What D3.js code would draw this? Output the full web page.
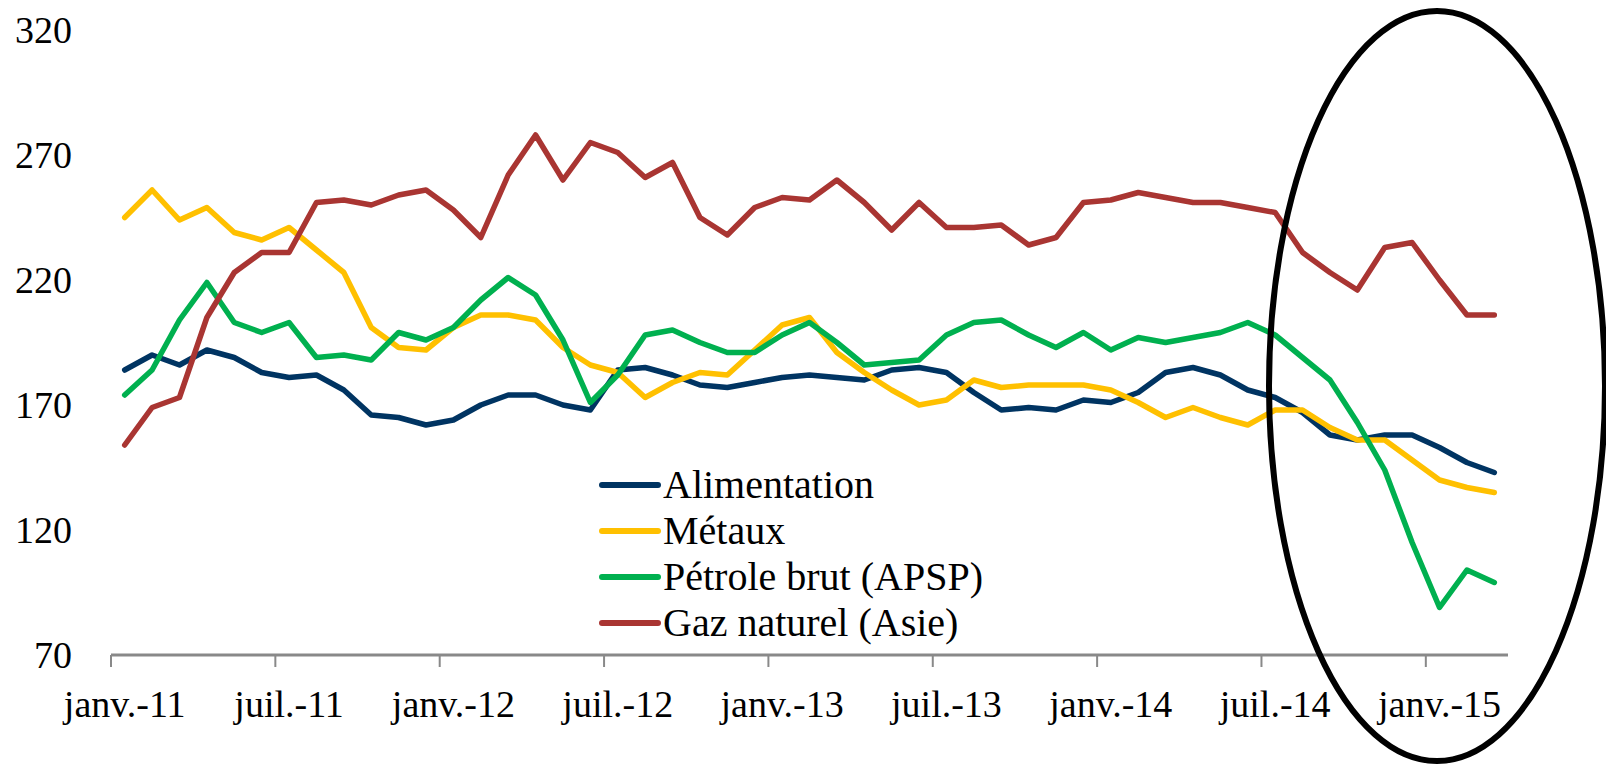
<!DOCTYPE html>
<html>
<head>
<meta charset="utf-8">
<script src="https://cdn.jsdelivr.net/npm/d3@7"></script>
<style>
    body { margin: 0; background: #ffffff; }
    svg text { font-family: "Liberation Serif", "DejaVu Serif", serif; fill: #000000; }
</style>
</head>
<body>
<svg id="chart" width="1606" height="764"></svg>
<script>
var months = [
    "janv.-11", "févr.-11", "mars-11", "avr.-11", "mai-11", "juin-11", "juil.-11", "août-11", "sept.-11", "oct.-11", "nov.-11", "déc.-11",
    "janv.-12", "févr.-12", "mars-12", "avr.-12", "mai-12", "juin-12", "juil.-12", "août-12", "sept.-12", "oct.-12", "nov.-12", "déc.-12",
    "janv.-13", "févr.-13", "mars-13", "avr.-13", "mai-13", "juin-13", "juil.-13", "août-13", "sept.-13", "oct.-13", "nov.-13", "déc.-13",
    "janv.-14", "févr.-14", "mars-14", "avr.-14", "mai-14", "juin-14", "juil.-14", "août-14", "sept.-14", "oct.-14", "nov.-14", "déc.-14",
    "janv.-15", "févr.-15", "mars-15"
];

var tickLabels = ["janv.-11", "juil.-11", "janv.-12", "juil.-12", "janv.-13", "juil.-13", "janv.-14", "juil.-14", "janv.-15"];
var yTicks = [70, 120, 170, 220, 270, 320];

var seriesNames = ["Alimentation", "Métaux", "Pétrole brut (APSP)", "Gaz naturel (Asie)"];
var seriesColors = ["#003462", "#FFC000", "#00B04F", "#A93532"];

var alimentation = [184, 190, 186, 192, 189, 183, 181, 182, 176, 166, 165, 162,
    164, 170, 174, 174, 170, 168, 184, 185, 182, 178, 177, 179,
    181, 182, 181, 180, 184, 185, 183, 175, 168, 169, 168, 172,
    171, 175, 183, 185, 182, 176, 173, 167, 158, 156, 158, 158,
    153, 147, 143];

var metaux = [245, 256, 244, 249, 239, 236, 241, 232, 223, 201, 193, 192,
    201, 206, 206, 204, 193, 186, 183, 173, 179, 183, 182, 192,
    202, 205, 191, 183, 176, 170, 172, 180, 177, 178, 178, 178,
    176, 171, 165, 169, 165, 162, 168, 168, 161, 156, 156, 148,
    140, 137, 135];

var petrole = [174, 184, 204, 219, 203, 199, 203, 189, 190, 188, 199, 196,
    201, 212, 221, 214, 196, 171, 182, 198, 200, 195, 191, 191,
    198, 203, 195, 186, 187, 188, 198, 203, 204, 198, 193, 199,
    192, 197, 195, 197, 199, 203, 198, 189, 180, 163, 144, 115,
    89, 104, 99];

var gaz = [154, 169, 173, 205, 223, 231, 231, 251, 252, 250, 254, 256,
    248, 237, 262, 278, 260, 275, 271, 261, 267, 245, 238, 249,
    253, 252, 260, 251, 240, 251, 241, 241, 242, 234, 237, 251,
    252, 255, 253, 251, 251, 249, 247, 231, 223, 216, 233, 235,
    220, 206, 206];

var allSeries = [alimentation, metaux, petrole, gaz];

var svg = d3.select("#chart");

var x = d3.scaleBand()
    .domain(months)
    .range([111, 1508])
    .padding(0);

var y = d3.scaleLinear()
    .domain([70, 320])
    .range([655, 30]);

// y labels, no axis line
svg.append("g")
    .selectAll("text")
    .data(yTicks)
    .enter()
    .append("text")
    .attr("x", 72)
    .attr("y", function(d) { return y(d); })
    .attr("dy", "0.34em")
    .style("text-anchor", "end")
    .style("font-size", "38px")
    .text(function(d) { return d; });

// x axis: ticks on month boundaries, labels centred on the month
var xAxis = svg.append("g").attr("class", "x-axis");

xAxis.append("line")
    .attr("x1", x.range()[0])
    .attr("x2", x.range()[1])
    .attr("y1", y(70))
    .attr("y2", y(70))
    .style("stroke", "#898989")
    .style("stroke-width", 3);

xAxis.selectAll(".tick")
    .data(tickLabels)
    .enter()
    .append("line")
    .attr("class", "tick")
    .attr("x1", function(d) { return x(d); })
    .attr("x2", function(d) { return x(d); })
    .attr("y1", y(70))
    .attr("y2", y(70) + 12)
    .style("stroke", "#898989")
    .style("stroke-width", 2);

xAxis.selectAll(".label")
    .data(tickLabels)
    .enter()
    .append("text")
    .attr("class", "label")
    .attr("x", function(d) { return x(d) + x.bandwidth() / 2; })
    .attr("y", 717)
    .style("text-anchor", "middle")
    .style("font-size", "38px")
    .text(function(d) { return d; });

// series lines
var line = d3.line()
    .x(function(d, i) { return x(months[i]) + x.bandwidth() / 2; })
    .y(function(d) { return y(d); });

svg.append("g")
    .selectAll("path")
    .data(allSeries)
    .enter()
    .append("path")
    .attr("d", line)
    .style("fill", "none")
    .style("stroke", function(d, i) { return seriesColors[i]; })
    .style("stroke-width", 5.5)
    .style("stroke-linejoin", "round")
    .style("stroke-linecap", "round");

// legend
var legend = svg.append("g")
    .selectAll("g")
    .data(seriesNames)
    .enter()
    .append("g")
    .attr("transform", function(d, i) { return "translate(602," + (485 + i * 46) + ")"; });

legend.append("line")
    .attr("x1", 0)
    .attr("x2", 56)
    .style("stroke", function(d, i) { return seriesColors[i]; })
    .style("stroke-width", 6)
    .style("stroke-linecap", "round");

legend.append("text")
    .attr("x", 61)
    .attr("dy", "0.33em")
    .style("font-size", "40px")
    .text(function(d) { return d; });

// highlight ellipse around the last months
svg.append("ellipse")
    .attr("cx", 1437)
    .attr("cy", 386)
    .attr("rx", 168)
    .attr("ry", 375)
    .style("fill", "none")
    .style("stroke", "#000000")
    .style("stroke-width", 6);
</script>
</body>
</html>
